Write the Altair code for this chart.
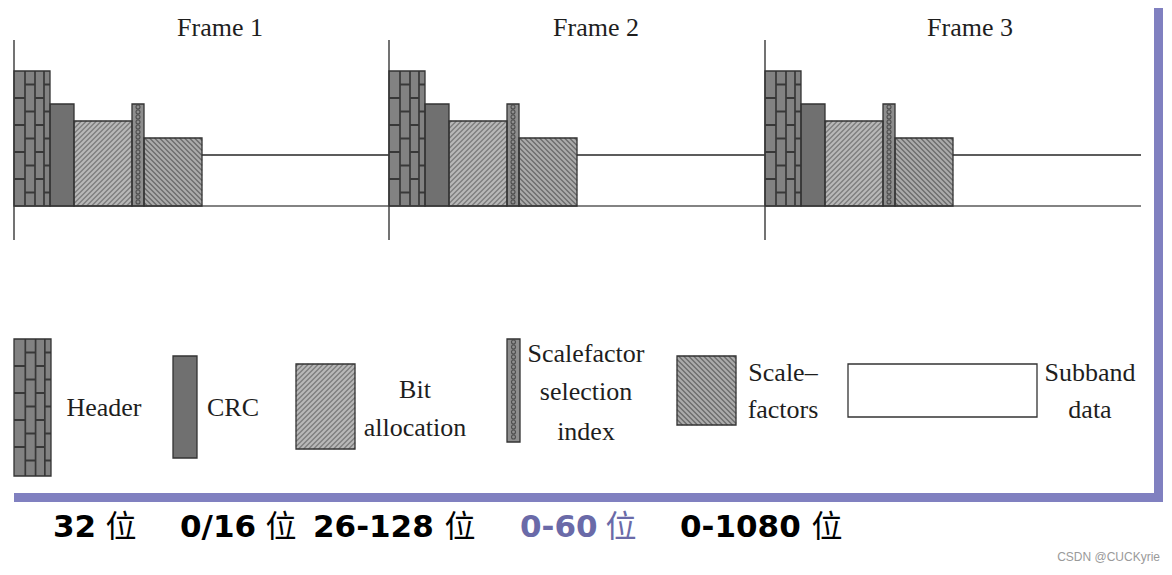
import altair as alt
import numpy as np
import pandas as pd

# ---------------- data (reference-pixel layout) ----------------
frame_titles = ["Frame 1", "Frame 2", "Frame 3"]
frame_starts = [14, 389, 765]
frame_title_x = [220, 596, 970]
frame_title_y = 28

segment_names = ["Header", "CRC", "Bit allocation", "Scalefactor selection index", "Scalefactors"]
segment_widths = [36, 24, 58, 12, 58]
segment_tops = [71, 104, 121, 104, 138]
baseline_y = 206
subband_top = 155
track_end = 1141
frame_tick_top = 40
frame_tick_bottom = 240

legend_names = ["Header", "CRC", "Bit allocation", "Scalefactor selection index", "Scalefactors", "Subband data"]
legend_x0 = [14, 173, 296, 507, 677, 848]
legend_x1 = [51, 197, 355, 520, 736, 1037]
legend_y0 = [339, 356, 364, 339, 356, 364]
legend_y1 = [476, 458, 449, 442, 425, 417]

legend_text = ["Header", "CRC", "Bit", "allocation", "Scalefactor", "selection", "index",
               "Scale\u2013", "factors", "Subband", "data"]
legend_text_x = [104, 233, 415, 415, 586, 586, 586, 783, 783, 1090, 1090]
legend_text_y = [408, 408, 390, 428, 354, 392, 432, 373, 410, 373, 410]

bit_numbers = ["32", "0/16", "26-128", "0-60", "0-1080"]
bit_number_x = [53, 180, 313, 520, 680]
bit_unit_x = [121, 281, 460, 621, 827]
bit_colors = ["#000000", "#000000", "#000000", "#6a6aa8", "#000000"]
bit_y = 528

styles = {
    "Header": {"fill": "#828282", "pattern": "brick"},
    "CRC": {"fill": "#707070", "pattern": None},
    "Bit allocation": {"fill": "#b9b9b9", "pattern": "/", "line": "#7e7e7e"},
    "Scalefactor selection index": {"fill": "#8e8e8e", "pattern": "o"},
    "Scalefactors": {"fill": "#acacac", "pattern": "\\", "line": "#6c6c6c"},
    "Subband data": {"fill": "#ffffff", "pattern": None},
}
brick_cols = [0, 11, 21, 30, 36]
brick_h = 27
hatch_step = 5

rects, rules, outlines, dots = [], [], [], []


def add_box(kind, x0, x1, y0, y1):
    st = styles[kind]
    rects.append(dict(x=x0, x2=x1, y=y0, y2=y1, fill=st["fill"]))
    pat = st["pattern"]
    if pat == "/":
        for c in np.arange(x0 + y0 + hatch_step / 2, x1 + y1, hatch_step):
            xa, xb = max(x0, c - y1), min(x1, c - y0)
            if xb > xa:
                rules.append(dict(x=xa, x2=xb, y=c - xa, y2=c - xb, color=st["line"], w=1.5))
    elif pat == "\\":
        for c in np.arange(y0 - x1 + hatch_step / 2, y1 - x0, hatch_step):
            xa, xb = max(x0, y0 - c), min(x1, y1 - c)
            if xb > xa:
                rules.append(dict(x=xa, x2=xb, y=c + xa, y2=c + xb, color=st["line"], w=1.5))
    elif pat == "brick":
        sc = (x1 - x0) / brick_cols[-1]
        for i in range(len(brick_cols) - 1):
            xl, xr = x0 + brick_cols[i] * sc, x0 + brick_cols[i + 1] * sc
            if i > 0:
                rules.append(dict(x=xl, x2=xl, y=y0, y2=y1, color="#383838", w=1.7))
            yy = y0 + (brick_h if i % 2 == 0 else brick_h / 2)
            while yy < y1 - 3:
                rules.append(dict(x=xl, x2=xr, y=yy, y2=yy, color="#383838", w=2))
                yy += brick_h
    elif pat == "o":
        yy = y0 + 3
        while yy < y1 - 2:
            dots.append(dict(x=(x0 + x1) / 2, y=yy))
            yy += 5
    outlines.append(dict(x=x0, x2=x1, y=y0, y2=y1))


# frames
for fs in frame_starts:
    x = fs
    for name, w, top in zip(segment_names, segment_widths, segment_tops):
        add_box(name, x, x + w, top, baseline_y)
        x += w
for i, fs in enumerate(frame_starts):
    end_sf = fs + sum(segment_widths)
    nxt = frame_starts[i + 1] if i + 1 < len(frame_starts) else track_end
    rules.append(dict(x=end_sf, x2=nxt, y=subband_top, y2=subband_top, color="#262626", w=1.6))
    rules.append(dict(x=fs, x2=fs, y=frame_tick_top, y2=frame_tick_bottom, color="#444444", w=1.5))
rules.append(dict(x=frame_starts[0], x2=track_end, y=baseline_y, y2=baseline_y, color="#5a5a5a", w=1.5))

# legend boxes
for name, a, b, c, d in zip(legend_names, legend_x0, legend_x1, legend_y0, legend_y1):
    add_box(name, a, b, c, d)

# purple frame
border = [dict(x=1154, x2=1163, y=8, y2=502, fill="#8080c0"),
          dict(x=14, x2=1163, y=493, y2=502, fill="#8080c0")]

xs = alt.Scale(domain=[8, 1164], nice=False, zero=False)
ys = alt.Scale(domain=[8, 567], nice=False, zero=False, reverse=True)
X = lambda f="x": alt.X(f + ":Q", scale=xs, axis=None)
Y = lambda f="y": alt.Y(f + ":Q", scale=ys, axis=None)

rect_layer = alt.Chart(pd.DataFrame(rects + border)).mark_rect(strokeWidth=0).encode(
    x=X(), x2="x2:Q", y=Y(), y2="y2:Q", color=alt.Color("fill:N", scale=None))
rule_layer = alt.Chart(pd.DataFrame(rules)).mark_rule().encode(
    x=X(), x2="x2:Q", y=Y(), y2="y2:Q", color=alt.Color("color:N", scale=None),
    strokeWidth=alt.StrokeWidth("w:Q", scale=None))
dot_layer = alt.Chart(pd.DataFrame(dots)).mark_point(
    shape="circle", size=16, filled=False, stroke="#333333", strokeWidth=1.1).encode(x=X(), y=Y())
outline_layer = alt.Chart(pd.DataFrame(outlines)).mark_rect(
    filled=False, stroke="#333333", strokeWidth=1.3).encode(x=X(), x2="x2:Q", y=Y(), y2="y2:Q")

serif_df = pd.DataFrame({
    "t": frame_titles + legend_text,
    "x": frame_title_x + legend_text_x,
    "y": [frame_title_y] * 3 + legend_text_y,
})
serif_layer = alt.Chart(serif_df).mark_text(
    font="Liberation Serif", fontSize=26, color="#1e1e1e", align="center", baseline="middle").encode(
    x=X(), y=Y(), text="t:N")

num_df = pd.DataFrame({"t": bit_numbers, "x": bit_number_x, "y": [bit_y] * 5, "c": bit_colors})
num_layer = alt.Chart(num_df).mark_text(
    font="DejaVu Sans", fontWeight="bold", fontSize=31, align="left", baseline="middle").encode(
    x=X(), y=Y(), text="t:N", color=alt.Color("c:N", scale=None))
unit_df = pd.DataFrame({"t": ["位"] * 5, "x": bit_unit_x, "y": [bit_y] * 5, "c": bit_colors})
unit_layer = alt.Chart(unit_df).mark_text(
    font="Noto Sans CJK SC", fontSize=31, align="center", baseline="middle").encode(
    x=X(), y=Y(), text="t:N", color=alt.Color("c:N", scale=None))

wm_layer = alt.Chart(pd.DataFrame({"t": ["CSDN @CUCKyrie"], "x": [1160], "y": [557]})).mark_text(
    font="Liberation Sans", fontSize=12, color="#9a9a9a", align="right", baseline="middle").encode(
    x=X(), y=Y(), text="t:N")

chart = alt.layer(rect_layer, rule_layer, dot_layer, outline_layer, serif_layer,
                  num_layer, unit_layer, wm_layer).properties(
    width=1156, height=559, padding=0, autosize=alt.AutoSizeParams(type="none"),
    background="white").configure_view(stroke=None)

chart.save("out.html", embed_options={"renderer": "svg", "actions": False})
